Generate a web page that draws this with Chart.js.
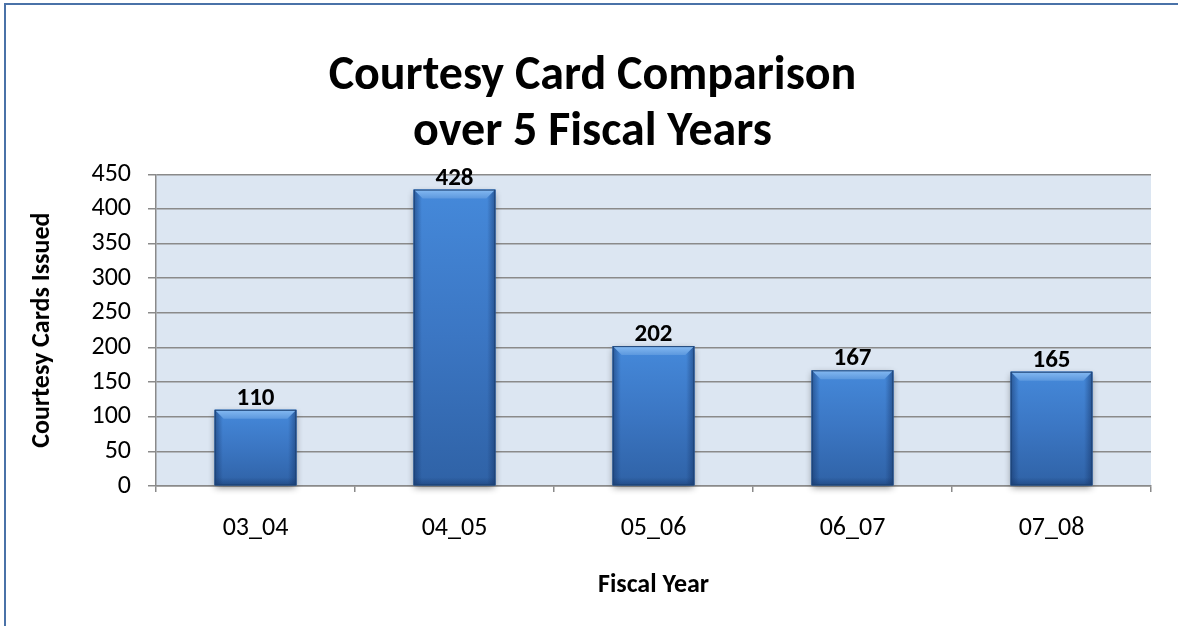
<!DOCTYPE html>
<html>
<head>
<meta charset="utf-8">
<script src="https://cdn.jsdelivr.net/npm/chart.js@4/dist/chart.umd.min.js"></script>
<style>
  html, body { margin: 0; padding: 0; background: #ffffff; overflow: hidden; }
  #wrap { position: relative; width: 1178px; height: 626px; }
  #frame { position: absolute; left: 4px; top: 3px; width: 1300px; height: 800px;
           border: 2px solid #4a72a8; box-sizing: border-box; pointer-events: none; }
</style>
</head>
<body>
<div id="wrap">
  <canvas id="c" width="1178" height="626"></canvas>
  <div id="frame"></div>
</div>
<script>
const titleLines = ["Courtesy Card Comparison", "over 5 Fiscal Years"];
const categories = ["03_04", "04_05", "05_06", "06_07", "07_08"];
const cardsIssued = [110, 428, 202, 167, 165];
const yTickValues = [0, 50, 100, 150, 200, 250, 300, 350, 400, 450];
const xAxisTitle = "Fiscal Year";
const yAxisTitle = "Courtesy Cards Issued";

const FONT = "Carlito, Lato, 'Open Sans', sans-serif";
const GRID = '#8a8a8a';

const plotBg = {
  id: 'plotBg',
  beforeDraw(chart) {
    const { ctx, chartArea: a } = chart;
    ctx.save();
    ctx.fillStyle = '#dce6f2';
    ctx.fillRect(a.left, a.top, a.right - a.left, a.bottom - a.top);
    ctx.restore();
  }
};

const barStyle = {
  id: 'barStyle',
  beforeDatasetsDraw(chart) {
    const { ctx } = chart;
    const meta = chart.getDatasetMeta(0);
    ctx.save();
    meta.data.forEach(bar => {
      const w = bar.width, l = bar.x - w / 2;
      ctx.shadowColor = 'rgba(0,0,0,0.45)';
      ctx.shadowBlur = 7;
      ctx.shadowOffsetY = 3;
      ctx.fillStyle = '#2d5f9f';
      ctx.fillRect(l, bar.y, w, bar.base - bar.y);
    });
    ctx.restore();
  },
  afterDatasetsDraw(chart) {
    const { ctx } = chart;
    const meta = chart.getDatasetMeta(0);
    ctx.save();
    meta.data.forEach((bar, i) => {
      const w = bar.width, l = bar.x - w / 2, r = bar.x + w / 2;
      const t = bar.y, b = bar.base, h = b - t;
      const vg = ctx.createLinearGradient(0, t, 0, b);
      vg.addColorStop(0, '#4589da');
      vg.addColorStop(0.5, '#3b76c3');
      vg.addColorStop(1, '#2f62a6');
      ctx.fillStyle = vg;
      ctx.fillRect(l, t, w, h);
      const hg = ctx.createLinearGradient(l, 0, r, 0);
      hg.addColorStop(0, 'rgba(20,50,100,0.55)');
      hg.addColorStop(0.1, 'rgba(20,50,100,0.0)');
      hg.addColorStop(0.9, 'rgba(20,50,100,0.0)');
      hg.addColorStop(1, 'rgba(20,50,100,0.55)');
      ctx.fillStyle = hg;
      ctx.fillRect(l, t, w, h);
      const bv = Math.min(8, h / 4);
      const bg = ctx.createLinearGradient(0, b - bv, 0, b);
      bg.addColorStop(0, 'rgba(20,50,100,0)');
      bg.addColorStop(1, 'rgba(20,50,100,0.45)');
      ctx.fillStyle = bg;
      ctx.fillRect(l, b - bv, w, bv);
      const tv = Math.min(9, h / 4);
      ctx.beginPath();
      ctx.moveTo(l, t);
      ctx.lineTo(r, t);
      ctx.lineTo(r - tv, t + tv);
      ctx.lineTo(l + tv, t + tv);
      ctx.closePath();
      const tg = ctx.createLinearGradient(0, t, 0, t + tv);
      tg.addColorStop(0, '#85baf2');
      tg.addColorStop(1, '#5c98de');
      ctx.fillStyle = tg;
      ctx.fill();
      ctx.strokeStyle = '#1d4376';
      ctx.lineWidth = 1;
      ctx.strokeRect(l + 0.5, t + 0.5, w - 1, h - 1);
      ctx.fillStyle = '#000000';
      ctx.font = "bold 25px " + FONT;
      ctx.textAlign = 'center';
      ctx.textBaseline = 'alphabetic';
      ctx.fillText(String(cardsIssued[i]), bar.x, t - 5);
    });
    ctx.restore();
  }
};

new Chart(document.getElementById('c'), {
  type: 'bar',
  data: {
    labels: categories,
    datasets: [{
      data: cardsIssued,
      backgroundColor: '#3a74c0',
      borderWidth: 0,
      barPercentage: 0.41,
      categoryPercentage: 1.0
    }]
  },
  options: {
    responsive: false,
    animation: false,
    devicePixelRatio: 1,
    layout: { padding: { left: 34, right: 27, top: 0, bottom: 0 } },
    plugins: {
      legend: { display: false },
      tooltip: { enabled: false },
      title: {
        display: true,
        text: titleLines,
        color: '#000000',
        font: { family: FONT, size: 48, weight: 'bold', lineHeight: 1.16 },
        padding: { top: 49, bottom: 14 }
      }
    },
    scales: {
      x: {
        afterFit(s) { s.height = 140; },
        grid: { display: true, drawOnChartArea: false, drawTicks: true, tickLength: 6, color: GRID, lineWidth: 1.5, offset: true },
        border: { display: true, color: GRID, width: 1.5 },
        ticks: { color: '#000000', font: { family: FONT, size: 26 }, padding: 21 },
        title: { display: true, text: xAxisTitle, color: '#000000', font: { family: FONT, size: 26, weight: 'bold' }, padding: { top: 0, bottom: 25 } }
      },
      y: {
        min: 0,
        max: 450,
        afterFit(s) { s.width = 122; },
        afterBuildTicks(s) { s.ticks = yTickValues.map(v => ({ value: v })); },
        grid: { color: GRID, lineWidth: 1.5, tickLength: 8, drawTicks: true },
        border: { display: true, color: GRID, width: 1.5 },
        ticks: { color: '#000000', font: { family: FONT, size: 26 }, padding: 17 },
        title: { display: true, text: yAxisTitle, color: '#000000', font: { family: FONT, size: 26, weight: 'bold' }, padding: { top: -7.6, bottom: 0 } }
      }
    }
  },
  plugins: [plotBg, barStyle]
});
</script>
</body>
</html>
